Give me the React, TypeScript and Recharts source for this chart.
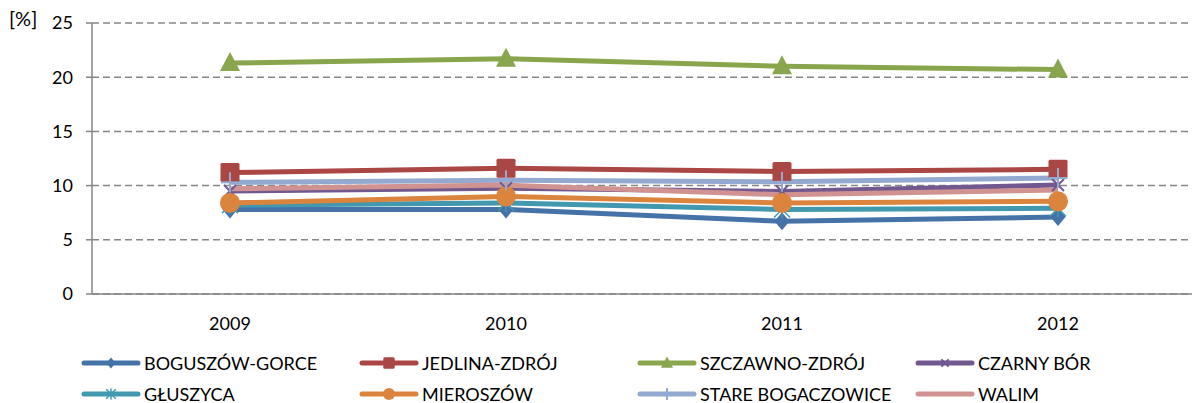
import { LineChart, Line, XAxis, YAxis, CartesianGrid, Legend } from "recharts";

const years = ["2009", "2010", "2011", "2012"];

const boguszow = [7.8, 7.8, 6.7, 7.1];
const jedlina = [11.2, 11.6, 11.3, 11.5];
const szczawno = [21.3, 21.7, 21.0, 20.7];
const czarnyBor = [9.5, 9.75, 9.45, 10.05];
const gluszyca = [8.2, 8.4, 7.8, 7.9];
const mieroszow = [8.4, 9.0, 8.4, 8.55];
const stareBogaczowice = [10.3, 10.5, 10.35, 10.7];
const walim = [9.7, 10.05, 9.15, 9.6];

const yTicks = [0, 5, 10, 15, 20, 25];

const FONT = "Lato, 'Liberation Sans', sans-serif";
const FS = 18;

type Shape = "diamond" | "square" | "triangle" | "x" | "asterisk" | "circle" | "plus" | "none";

const series: { key: string; name: string; color: string; shape: Shape; values: number[] }[] = [
  { key: "boguszow", name: "BOGUSZÓW-GORCE", color: "#4572A7", shape: "diamond", values: boguszow },
  { key: "jedlina", name: "JEDLINA-ZDRÓJ", color: "#AA4643", shape: "square", values: jedlina },
  { key: "szczawno", name: "SZCZAWNO-ZDRÓJ", color: "#89A54E", shape: "triangle", values: szczawno },
  { key: "czarny", name: "CZARNY BÓR", color: "#71588F", shape: "x", values: czarnyBor },
  { key: "gluszyca", name: "GŁUSZYCA", color: "#4198AF", shape: "asterisk", values: gluszyca },
  { key: "mieroszow", name: "MIEROSZÓW", color: "#DB843D", shape: "circle", values: mieroszow },
  { key: "stare", name: "STARE BOGACZOWICE", color: "#93A9CF", shape: "plus", values: stareBogaczowice },
  { key: "walim", name: "WALIM", color: "#D19392", shape: "none", values: walim },
];

const data = years.map((year, i) => {
  const row: Record<string, string | number> = { year };
  series.forEach((s) => {
    row[s.key] = s.values[i];
  });
  return row;
});

function Marker({ shape, cx, cy, color, k = 1 }: { shape: Shape; cx: number; cy: number; color: string; k?: number }) {
  switch (shape) {
    case "diamond":
      return (
        <polygon
          points={`${cx},${cy - 9 * k} ${cx + 7.5 * k},${cy} ${cx},${cy + 9 * k} ${cx - 7.5 * k},${cy}`}
          fill={color}
        />
      );
    case "square":
      return <rect x={cx - 9.5 * k} y={cy - 9.5 * k} width={19 * k} height={19 * k} rx={1.5} fill={color} />;
    case "triangle":
      return (
        <polygon
          points={`${cx},${cy - 11 * k} ${cx + 10 * k},${cy + 8 * k} ${cx - 10 * k},${cy + 8 * k}`}
          fill={color}
        />
      );
    case "x":
      return (
        <g stroke={color} strokeWidth={2}>
          <line x1={cx - 6 * k} y1={cy - 6 * k} x2={cx + 6 * k} y2={cy + 6 * k} />
          <line x1={cx - 6 * k} y1={cy + 6 * k} x2={cx + 6 * k} y2={cy - 6 * k} />
        </g>
      );
    case "asterisk":
      return (
        <g stroke={color} strokeWidth={1.5}>
          <line x1={cx - 8 * k} y1={cy - 8 * k} x2={cx + 8 * k} y2={cy + 8 * k} />
          <line x1={cx - 8 * k} y1={cy + 8 * k} x2={cx + 8 * k} y2={cy - 8 * k} />
          <line x1={cx} y1={cy - 9 * k} x2={cx} y2={cy + 9 * k} />
        </g>
      );
    case "circle":
      return <circle cx={cx} cy={cy} r={10 * k} fill={color} />;
    case "plus":
      return (
        <g stroke={color} strokeWidth={2}>
          <line x1={cx} y1={cy - 10 * k} x2={cx} y2={cy + 10 * k} />
          <line x1={cx - 9 * k} y1={cy} x2={cx + 9 * k} y2={cy} />
        </g>
      );
    default:
      return null;
  }
}

function renderLegend(props: any) {
  const payload: any[] = props.payload || [];
  const items = series.filter((s) => payload.some((p) => p.dataKey === s.key));
  return (
    <div
      style={{
        display: "grid",
        gridTemplateColumns: "278px 278px 278px 278px",
        gridAutoRows: "31px",
        paddingTop: 18,
        paddingLeft: 80,
        fontFamily: FONT,
        fontSize: FS,
        color: "#000",
      }}
    >
      {items.map((s) => (
        <div key={s.key} style={{ display: "flex", alignItems: "center", height: 31 }}>
          <svg width={62} height={20} style={{ marginRight: 2 }}>
            <line x1={4} y1={10} x2={58} y2={10} stroke={s.color} strokeWidth={5} strokeLinecap="round" />
            <Marker shape={s.shape} cx={31} cy={10} color={s.color} k={0.6} />
          </svg>
          <span>{s.name}</span>
        </div>
      ))}
    </div>
  );
}

export default function App() {
  return (
    <div
      style={{
        position: "absolute",
        top: 0,
        left: 0,
        width: 1192,
        height: 403,
        overflow: "hidden",
        background: "#fff",
      }}
    >
      <LineChart
        width={1200}
        height={403}
        data={data}
        margin={{ top: 23, right: 4, bottom: 0, left: 0 }}
        style={{ fontFamily: FONT }}
      >
        <CartesianGrid vertical={false} stroke="#868686" strokeWidth={1.5} strokeDasharray="7 4" />
        <XAxis
          dataKey="year"
          scale="band"
          height={35}
          tickLine={false}
          tickSize={6}
          tickMargin={17}
          axisLine={{ stroke: "#868686", strokeWidth: 1.5 }}
          tick={{ fill: "#000", fontSize: FS, fontFamily: FONT }}
        />
        <YAxis
          width={92}
          domain={[0, 25]}
          ticks={yTicks}
          interval={0}
          tickSize={6}
          tickMargin={13}
          axisLine={{ stroke: "#868686", strokeWidth: 1.5 }}
          tickLine={{ stroke: "#868686", strokeWidth: 1.5 }}
          tick={{ fill: "#000", fontSize: FS, fontFamily: FONT }}
          label={{
            value: "[%]",
            position: "insideTopLeft",
            offset: 0,
            dx: 9,
            dy: -11,
            fontSize: 20,
            fontFamily: FONT,
            fill: "#000",
          }}
        />
        <Legend
          verticalAlign="bottom"
          height={74}
          wrapperStyle={{ left: 0, width: 1192, height: 74 }}
          content={renderLegend}
        />
        {series.map((s) => (
          <Line
            key={s.key}
            type="linear"
            dataKey={s.key}
            name={s.name}
            stroke={s.color}
            strokeWidth={5}
            strokeLinejoin="round"
            isAnimationActive={false}
            activeDot={false}
            dot={(p: any) => (
              <Marker key={`${s.key}-${p.index}`} shape={s.shape} cx={p.cx} cy={p.cy} color={s.color} />
            )}
          />
        ))}
      </LineChart>
    </div>
  );
}
